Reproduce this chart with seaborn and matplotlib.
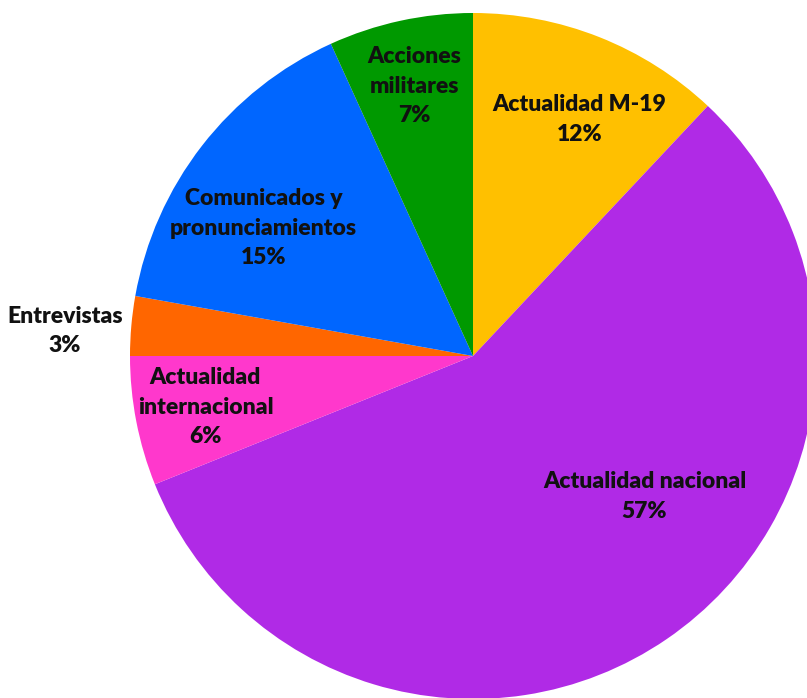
import matplotlib
matplotlib.use("Agg")
import matplotlib.pyplot as plt
import seaborn as sns

sns.set_theme(style="white")
plt.rcParams['font.family'] = ['Lato', 'DejaVu Sans']

categories = ["Actualidad M-19", "Actualidad nacional", "Actualidad\ninternacional",
              "Entrevistas", "Comunicados y\npronunciamientos", "Acciones\nmilitares"]
values = [12.0, 56.9, 6.1, 2.8, 15.4, 6.8]
colors = ["#FFC000", "#B02AE6", "#FF38CC", "#FF6600", "#0066FF", "#009900"]
# label anchor positions (in pie radius units)
label_x = [0.31, 0.50, -0.78, -1.19, -0.61, -0.17]
label_y = [0.69, -0.41, -0.149, 0.073, 0.373, 0.787]

fig = plt.figure(figsize=(8.07, 6.98), dpi=100)
ax = fig.add_axes([130/807, -1/698, 686/807, 686/698])
ax.pie(values, colors=colors, startangle=90, counterclock=False,
       wedgeprops=dict(linewidth=0))
ax.set_xlim(-1, 1)
ax.set_ylim(-1, 1)
ax.set_aspect('equal')
ax.axis('off')

total = sum(values)
for cat, v, x, y in zip(categories, values, label_x, label_y):
    ax.text(x, y, f"{cat}\n{round(v / total * 100)}%", ha='center', va='center',
            fontsize=16.5, fontweight='heavy', color='#111111', linespacing=1.5,
            clip_on=False)

fig.savefig("out.png", dpi=100)
